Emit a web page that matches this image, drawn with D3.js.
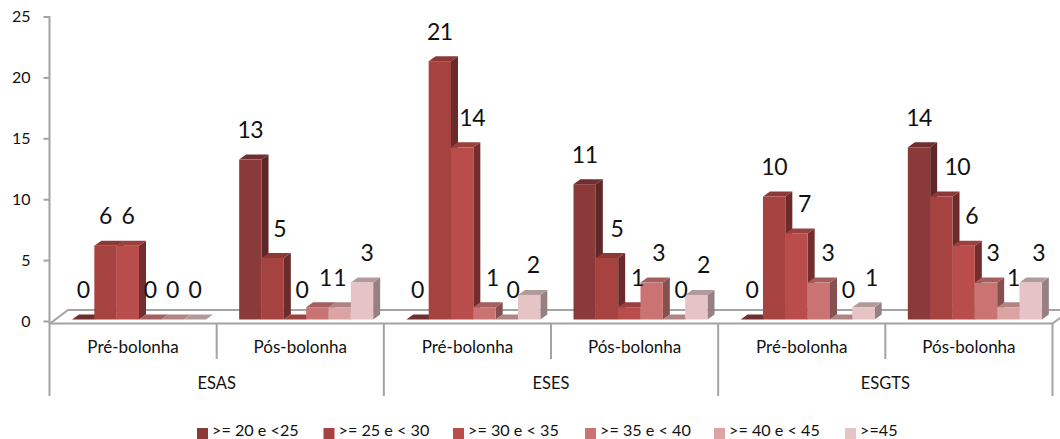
<!DOCTYPE html>
<html><head><meta charset="utf-8">
<script src="https://cdnjs.cloudflare.com/ajax/libs/d3/7.8.5/d3.min.js"></script>
<style>html,body{margin:0;background:#fff}svg{display:block}text{font-family:Lato,sans-serif;fill:#111}</style>
</head><body><svg id="c" width="1060" height="439"></svg>
<script>
const schools = ["ESAS","ESES","ESGTS"];
const periods = ["Pré-bolonha","Pós-bolonha"];
const seriesNames = [">= 20 e <25",">= 25 e < 30",">= 30 e < 35",">= 35 e < 40",">= 40 e < 45",">=45"];
const esasPre = [0,6,6,0,0,0];
const esasPos = [13,5,0,1,1,3];
const esesPre = [0,21,14,1,0,2];
const esesPos = [11,5,1,3,0,2];
const esgtsPre = [0,10,7,3,0,1];
const esgtsPos = [14,10,6,3,1,3];
const groups = [esasPre,esasPos,esesPre,esesPos,esgtsPre,esgtsPos];
const yTicks = [0,5,10,15,20,25];
// styling: colours, legend slots and hand-placed label nudges
const front = ["#8B3A3A","#A64341","#B84D4B","#C97472","#DBA4A3","#E6C4C5"];
const sideC = ["#5f2727","#6b2b2a","#732d2c","#85504f","#967271","#968081"];
const topC  = ["#702e2e","#8b3837","#9a403e","#a35e5d","#b08483","#b39a9a"];
const legendX = [197,323.5,453,585,714,845];
const labelNudge = [[0,0,0,0,0,0],[0,7,7,8,0,5],[0,0,10,8,6,4],[0,10,8,7,7,7],[0,0,8,9,7,8],[0,16,8,7,5,8]];

const svg = d3.select("#c");
const axisCol = "#a3a3a3";
const y = d3.scaleLinear().domain([0,25]).range([321,16.5]);
const yBar = d3.scaleLinear().domain([0,25]).range([319.5,12]);
const x0 = d3.scaleBand().domain(d3.range(6)).range([49.5,1052.5]);
const x1 = d3.scaleBand().domain(d3.range(6)).range([22.5,156.5]);
const DX = 7, DY = 5;

// floor
svg.append("path").attr("d","M50,323.5 L68,310 L1060,310").attr("fill","none").attr("stroke",axisCol).attr("stroke-width",2);
svg.append("path").attr("d","M1071,310 L1052.5,323.5").attr("fill","none").attr("stroke",axisCol).attr("stroke-width",2);

// y axis
const ya = svg.append("g").attr("transform","translate(49.5,0)")
  .call(d3.axisLeft(y).tickValues(yTicks).tickSize(6).tickPadding(13));
ya.select(".domain").attr("d","M0,16 V323").attr("stroke",axisCol).attr("stroke-width",2);
ya.selectAll(".tick line").attr("stroke",axisCol).attr("stroke-width",2);
ya.selectAll(".tick text").style("font-family","Lato,sans-serif").style("font-size","16px").attr("fill","#111");

// x baseline and dividers
svg.append("line").attr("x1",49).attr("x2",1053).attr("y1",323.5).attr("y2",323.5).attr("stroke",axisCol).attr("stroke-width",2);
const xa = svg.append("g");
d3.range(7).forEach(i=>{
  const px = i<6 ? x0(i) : x0.range()[1];
  xa.append("line").attr("x1",px).attr("x2",px).attr("y1",323).attr("y2",i%2===0?396:359)
    .attr("stroke",axisCol).attr("stroke-width",2);
});
groups.forEach((g,i)=>{
  xa.append("text").attr("x",x0(i)+x0.bandwidth()/2).attr("y",353).attr("text-anchor","middle")
    .style("font-size","17px").text(periods[i%2]);
});
schools.forEach((s,i)=>{
  xa.append("text").attr("x",x0(i*2)+x0.bandwidth()).attr("y",389).attr("text-anchor","middle")
    .style("font-size","16.5px").text(s);
});

// bars
groups.forEach((vals,gi)=>{
  const g = svg.append("g");
  const bars = g.selectAll("g").data(vals).join("g");
  bars.each(function(v,si){
    const b = d3.select(this);
    const xl = x0(gi)+x1(si), w = x1.bandwidth(), t = yBar(v), bt = yBar(0);
    b.append("path").attr("d",`M${xl+w},${t} L${xl+w+DX},${t-DY} L${xl+w+DX},${bt-DY} L${xl+w},${bt} Z`).attr("fill",sideC[si]);
    b.append("path").attr("d",`M${xl},${t} L${xl+DX},${t-DY} L${xl+w+DX},${t-DY} L${xl+w},${t} Z`).attr("fill",topC[si]);
    b.append("rect").attr("x",xl).attr("y",t).attr("width",w).attr("height",bt-t).attr("fill",front[si]);
  });
});
// value labels on top
groups.forEach((vals,gi)=>{
  svg.append("g").selectAll("text").data(vals).join("text")
    .attr("x",(v,si)=>x0(gi)+x1(si)+x1.bandwidth()/2+labelNudge[gi][si])
    .attr("y",v=>yBar(v)-21.5)
    .attr("text-anchor","middle").style("font-size","23px").style("letter-spacing","-0.5px").text(v=>v);
});

// legend
const lg = svg.append("g").selectAll("g").data(seriesNames).join("g")
  .attr("transform",(d,i)=>`translate(${legendX[i]},0)`);
lg.append("rect").attr("y",428).attr("width",11).attr("height",11).attr("fill",(d,i)=>front[i]);
lg.append("text").attr("x",15).attr("y",435.5).style("font-size","16.2px").text(d=>d);
</script></body></html>
